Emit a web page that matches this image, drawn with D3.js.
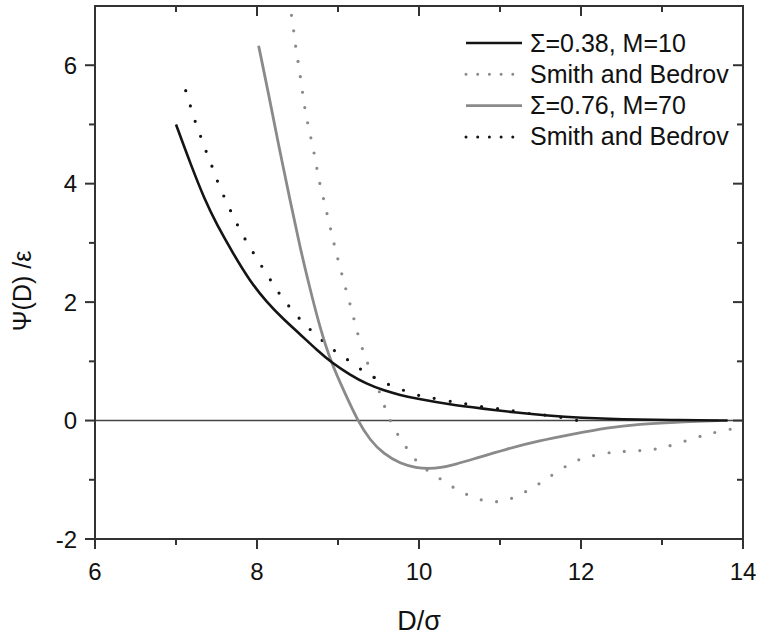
<!DOCTYPE html>
<html>
<head>
<meta charset="utf-8">
<script src="https://cdn.jsdelivr.net/npm/d3@7"></script>
<style>
  html, body { margin: 0; padding: 0; background: #fff; }
  svg { display: block; }
  text { font-family: "Liberation Sans", Arial, sans-serif; fill: #111; }
</style>
</head>
<body>
<svg id="chart" width="777" height="636"></svg>
<script>
// ---- data ----
const xTicks = [6, 8, 10, 12, 14];
const yTicks = [-2, 0, 2, 4, 6];
const xMinorTicks = [7, 9, 11, 13];
const yMinorTicks = [-1, 1, 3, 5];

// Σ=0.38, M=10 (solid black)
const s1x = [7.0, 7.18, 7.36, 7.5, 7.71, 7.91, 8.12, 8.32, 8.53, 8.74, 8.92, 9.15, 9.35, 9.56, 9.77, 9.97, 10.38, 10.8, 11.16, 11.6, 12.0, 12.5, 13.1, 13.81];
const s1y = [5.0, 4.33, 3.71, 3.32, 2.81, 2.36, 2.0, 1.72, 1.46, 1.19, 0.98, 0.77, 0.62, 0.51, 0.43, 0.37, 0.27, 0.2, 0.14, 0.08, 0.045, 0.02, 0.01, 0.0];

// Smith and Bedrov (black dotted)
const s1rx = [7.12, 7.18, 7.24, 7.31, 7.38, 7.45, 7.52, 7.65, 7.74, 7.84, 7.95, 8.08, 8.2, 8.32, 8.48, 8.59, 8.78, 8.95, 9.11, 9.28, 9.48, 9.6, 9.81, 9.99, 10.14, 10.31, 10.5, 10.63, 10.83, 11.01, 11.14, 11.33, 11.51, 11.7, 11.96];
const s1ry = [5.57, 5.30, 5.03, 4.78, 4.51, 4.28, 4.0, 3.61, 3.35, 3.09, 2.84, 2.56, 2.30, 2.05, 1.79, 1.62, 1.38, 1.18, 1.04, 0.86, 0.70, 0.62, 0.51, 0.42, 0.39, 0.34, 0.30, 0.27, 0.22, 0.20, 0.17, 0.12, 0.10, 0.07, 0.0];

// Σ=0.76, M=70 (solid gray)
const s2x = [8.02, 8.16, 8.28, 8.41, 8.53, 8.65, 8.78, 8.92, 9.07, 9.24, 9.4, 9.56, 9.77, 9.97, 10.12, 10.26, 10.45, 10.67, 11.08, 11.49, 11.9, 12.32, 12.73, 13.14, 13.7];
const s2y = [6.33, 5.40, 4.56, 3.71, 2.93, 2.25, 1.55, 0.96, 0.51, 0.0, -0.34, -0.56, -0.73, -0.80, -0.81, -0.80, -0.74, -0.65, -0.48, -0.34, -0.23, -0.12, -0.06, -0.03, 0.0];

// Smith and Bedrov (gray dotted)
const s2rx = [8.40, 8.42, 8.45, 8.47, 8.5, 8.53, 8.57, 8.6, 8.64, 8.68, 8.72, 8.75, 8.79, 8.84, 8.88, 8.93, 8.97, 9.02, 9.07, 9.15, 9.2, 9.25, 9.31, 9.38, 9.46, 9.53, 9.6, 9.68, 9.8, 9.93, 10.05, 10.25, 10.42, 10.56, 10.74, 10.92, 11.06, 11.23, 11.41, 11.56, 11.73, 11.9, 12.05, 12.23, 12.4, 12.54, 12.72, 12.89, 13.04, 13.21, 13.41, 13.59, 13.78, 14.0];
const s2ry = [7.1, 6.89, 6.63, 6.37, 6.12, 5.86, 5.46, 5.19, 4.93, 4.68, 4.42, 4.16, 3.91, 3.65, 3.39, 3.12, 2.87, 2.62, 2.35, 1.96, 1.70, 1.43, 1.17, 0.91, 0.68, 0.41, 0.14, -0.11, -0.37, -0.63, -0.80, -0.97, -1.13, -1.23, -1.34, -1.38, -1.36, -1.27, -1.13, -1.0, -0.84, -0.70, -0.62, -0.57, -0.53, -0.52, -0.51, -0.49, -0.45, -0.38, -0.29, -0.22, -0.16, -0.11];

const legendLabels = ["\u03A3=0.38, M=10", "Smith and Bedrov", "\u03A3=0.76, M=70", "Smith and Bedrov"];

// ---- layout ----
const L = 95, R = 743, T = 6, B = 539;
const BLACK = "#141414", GRAY = "#8a8a8a", AXIS = "#333";

const svg = d3.select("#chart");
const x = d3.scaleLinear().domain([6, 14]).range([L, R]);
const y = d3.scaleLinear().domain([-2, 7]).range([B, T]);

const defs = svg.append("defs");
defs.append("clipPath").attr("id", "clip")
  .append("rect").attr("x", L).attr("y", T).attr("width", R - L).attr("height", B - T);

// zero line
svg.append("line")
  .attr("x1", L).attr("x2", R).attr("y1", y(0)).attr("y2", y(0))
  .attr("stroke", "#444").attr("stroke-width", 1.6);

const line = d3.line().x(d => x(d[0])).y(d => y(d[1])).curve(d3.curveBasis);
const zip = (a, b) => a.map((v, i) => [v, b[i]]);

const g = svg.append("g").attr("clip-path", "url(#clip)");

// dotted reference curves
g.append("path").datum(zip(s2rx, s2ry))
  .attr("d", line).attr("fill", "none")
  .attr("stroke", GRAY).attr("stroke-width", 3.2)
  .attr("stroke-linecap", "round").attr("stroke-dasharray", "0,15.5");
g.append("path").datum(zip(s1rx, s1ry))
  .attr("d", line).attr("fill", "none")
  .attr("stroke", BLACK).attr("stroke-width", 3.2)
  .attr("stroke-linecap", "round").attr("stroke-dasharray", "0,16");

// solid curves
g.append("path").datum(zip(s2x, s2y))
  .attr("d", line).attr("fill", "none")
  .attr("stroke", GRAY).attr("stroke-width", 2.8);
g.append("path").datum(zip(s1x, s1y))
  .attr("d", line).attr("fill", "none")
  .attr("stroke", BLACK).attr("stroke-width", 2.6);

// ---- axes ----
const axisG = svg.append("g").attr("stroke", AXIS).attr("stroke-width", 2);
axisG.append("rect").attr("x", L).attr("y", T).attr("width", R - L).attr("height", B - T).attr("fill", "none");

xTicks.forEach(v => {
  axisG.append("line").attr("x1", x(v)).attr("x2", x(v)).attr("y1", B).attr("y2", B + 10);
  axisG.append("line").attr("x1", x(v)).attr("x2", x(v)).attr("y1", T).attr("y2", T + 10);
});
xMinorTicks.forEach(v => {
  axisG.append("line").attr("x1", x(v)).attr("x2", x(v)).attr("y1", B).attr("y2", B + 6);
  axisG.append("line").attr("x1", x(v)).attr("x2", x(v)).attr("y1", T).attr("y2", T + 6);
});
yTicks.forEach(v => {
  axisG.append("line").attr("x1", L - 10).attr("x2", L).attr("y1", y(v)).attr("y2", y(v));
  axisG.append("line").attr("x1", R - 10).attr("x2", R).attr("y1", y(v)).attr("y2", y(v));
});
yMinorTicks.forEach(v => {
  axisG.append("line").attr("x1", L - 6).attr("x2", L).attr("y1", y(v)).attr("y2", y(v));
  axisG.append("line").attr("x1", R - 6).attr("x2", R).attr("y1", y(v)).attr("y2", y(v));
});

// tick labels
svg.append("g").selectAll("text").data(xTicks).join("text")
  .attr("x", d => x(d)).attr("y", 580)
  .attr("text-anchor", "middle").attr("font-size", 24)
  .text(d => d);
svg.append("g").selectAll("text").data(yTicks).join("text")
  .attr("x", 77).attr("y", d => y(d) + 8.5)
  .attr("text-anchor", "end").attr("font-size", 24)
  .text(d => d);

// axis titles
svg.append("text").attr("x", x(10)).attr("y", 630)
  .attr("text-anchor", "middle").attr("font-size", 27)
  .text("D/\u03C3");
svg.append("text")
  .attr("transform", "translate(31,291) rotate(-90)")
  .attr("text-anchor", "middle").attr("font-size", 25)
  .text("\u03A8(D) /\u03B5");

// ---- legend ----
const legStyles = [
  {color: BLACK, dash: null, w: 2.6},
  {color: GRAY, dash: "0,11.7", w: 3},
  {color: GRAY, dash: null, w: 2.8},
  {color: BLACK, dash: "0,11.7", w: 3}
];
const leg = svg.append("g");
legendLabels.forEach((lab, i) => {
  const cy = 43 + i * 31.3;
  const st = legStyles[i];
  const ln = leg.append("line")
    .attr("x1", 466).attr("x2", 522).attr("y1", cy).attr("y2", cy)
    .attr("stroke", st.color).attr("stroke-width", st.w);
  if (st.dash) ln.attr("stroke-dasharray", st.dash).attr("stroke-linecap", "round");
  leg.append("text").attr("x", 530).attr("y", cy + 8.5)
    .attr("font-size", 25).text(lab);
});
</script>
</body>
</html>
